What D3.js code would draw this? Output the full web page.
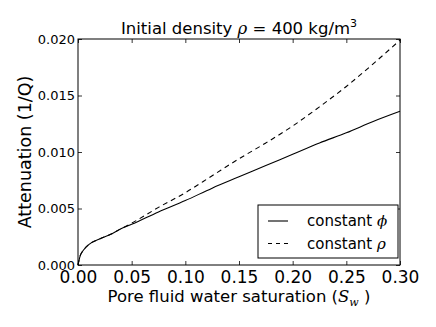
<!DOCTYPE html>
<html>
<head>
<meta charset="utf-8">
<script src="https://cdn.jsdelivr.net/npm/d3@7"></script>
<style>
  body { margin: 0; background: #fff; }
  text { font-family: "DejaVu Sans", sans-serif; fill: #000; }
  .math { font-family: "DejaVu Serif", serif; font-style: italic; }
</style>
</head>
<body>
<div id="chart"></div>
<script>
// ----------------------------
// Data
// ----------------------------
var saturation = [0, 0.002, 0.005, 0.01, 0.02, 0.03, 0.04, 0.05, 0.075, 0.1, 0.125, 0.15, 0.175, 0.2, 0.225, 0.25, 0.275, 0.3];
var constPhi = [0, 0.0008, 0.0013, 0.0018, 0.0023, 0.0027, 0.0032, 0.0036, 0.0047, 0.0057, 0.0068, 0.0078, 0.0088, 0.0098, 0.0108, 0.0117, 0.0127, 0.0136];
var constRho = [0, 0.0008, 0.0013, 0.0018, 0.0023, 0.0027, 0.0032, 0.0037, 0.0051, 0.0064, 0.0079, 0.0094, 0.0108, 0.0123, 0.0140, 0.0158, 0.0178, 0.0199];
var xTicks = [0, 0.05, 0.10, 0.15, 0.20, 0.25, 0.30];
var yTicks = [0, 0.005, 0.010, 0.015, 0.020];

var W = 436, H = 327;
var m = {left: 78, right: 36, top: 39, bottom: 62};
var iw = W - m.left - m.right, ih = H - m.top - m.bottom;

var svg = d3.select("#chart").append("svg")
  .attr("width", W).attr("height", H);

var x = d3.scaleLinear().domain([0, 0.30]).range([0, iw]);
var y = d3.scaleLinear().domain([0, 0.020]).range([ih, 0]);

var g = svg.append("g").attr("transform", `translate(${m.left},${m.top})`);

// ----------------------------
// Axes (ticks inward, on all four sides)
// ----------------------------
var tl = 4;
var xb = g.append("g").attr("transform", `translate(0,${ih})`)
  .call(d3.axisBottom(x).tickValues(xTicks).tickSizeInner(-tl).tickSizeOuter(0).tickPadding(4).tickFormat(d3.format(".2f")));
xb.selectAll("text").attr("font-size", 17).attr("font-family", "DejaVu Sans").attr("dy", "0.85em");
g.append("g")
  .call(d3.axisTop(x).tickValues(xTicks).tickSizeInner(-tl).tickSizeOuter(0).tickFormat(""));
var yl = g.append("g")
  .call(d3.axisLeft(y).tickValues(yTicks).tickSizeInner(-tl).tickSizeOuter(0).tickPadding(3).tickFormat(d3.format(".3f")));
yl.selectAll("text").attr("font-size", 13).attr("font-family", "DejaVu Sans");
g.append("g").attr("transform", `translate(${iw},0)`)
  .call(d3.axisRight(y).tickValues(yTicks).tickSizeInner(-tl).tickSizeOuter(0).tickFormat(""));
g.selectAll(".domain").remove();
g.selectAll(".tick line").attr("stroke", "#000").attr("stroke-width", 0.8);

// ----------------------------
// Curves
// ----------------------------
var line = d3.line()
  .x((d, i) => x(saturation[i]))
  .y(d => y(d))
  .curve(d3.curveMonotoneX);

g.append("path").datum(constPhi)
  .attr("d", line).attr("fill", "none")
  .attr("stroke", "#000").attr("stroke-width", 1.1);
g.append("path").datum(constRho)
  .attr("d", line).attr("fill", "none")
  .attr("stroke", "#000").attr("stroke-width", 1.1)
  .attr("stroke-dasharray", "5,4");

// frame
g.append("rect").attr("width", iw).attr("height", ih)
  .attr("fill", "none").attr("stroke", "#000").attr("stroke-width", 1);

// ----------------------------
// Legend
// ----------------------------
var leg = g.append("g").attr("transform", `translate(${258 - m.left},${205 - m.top})`);
leg.append("rect").attr("width", 140).attr("height", 53)
  .attr("fill", "#fff").attr("stroke", "#000").attr("stroke-width", 1);
var entries = [{label: "constant ", sym: "ϕ", dash: null}, {label: "constant ", sym: "ρ", dash: "4,4"}];
entries.forEach(function(e, i) {
  var yy = 16 + i * 22.5;
  leg.append("line").attr("x1", 10).attr("x2", 30).attr("y1", yy).attr("y2", yy)
    .attr("stroke", "#000").attr("stroke-width", 1.1)
    .attr("stroke-dasharray", e.dash);
  var t = leg.append("text").attr("x", 49).attr("y", yy + 5).attr("font-size", 15);
  t.append("tspan").text(e.label);
  t.append("tspan").attr("class", "math").text(e.sym);
});

// ----------------------------
// Title and axis labels
// ----------------------------
var title = svg.append("text").attr("x", m.left + iw / 2).attr("y", 34)
  .attr("text-anchor", "middle").attr("font-size", 16.5);
title.append("tspan").text("Initial density ");
title.append("tspan").attr("class", "math").text("ρ");
title.append("tspan").text(" = 400 kg/m");
title.append("tspan").attr("font-size", 11).attr("dy", -7).text("3");

var xlab = svg.append("text").attr("x", m.left + iw / 2).attr("y", 302)
  .attr("text-anchor", "middle").attr("font-size", 16.5);
xlab.append("tspan").text("Pore fluid water saturation (");
xlab.append("tspan").attr("class", "math").text("S");
xlab.append("tspan").attr("class", "math").attr("font-size", 11).attr("dy", 4).text("w");
xlab.append("tspan").attr("dy", -4).text(" )");

svg.append("text")
  .attr("transform", `translate(31,${m.top + ih / 2}) rotate(-90)`)
  .attr("text-anchor", "middle").attr("font-size", 17.5)
  .text("Attenuation (1/Q)");
</script>
</body>
</html>
